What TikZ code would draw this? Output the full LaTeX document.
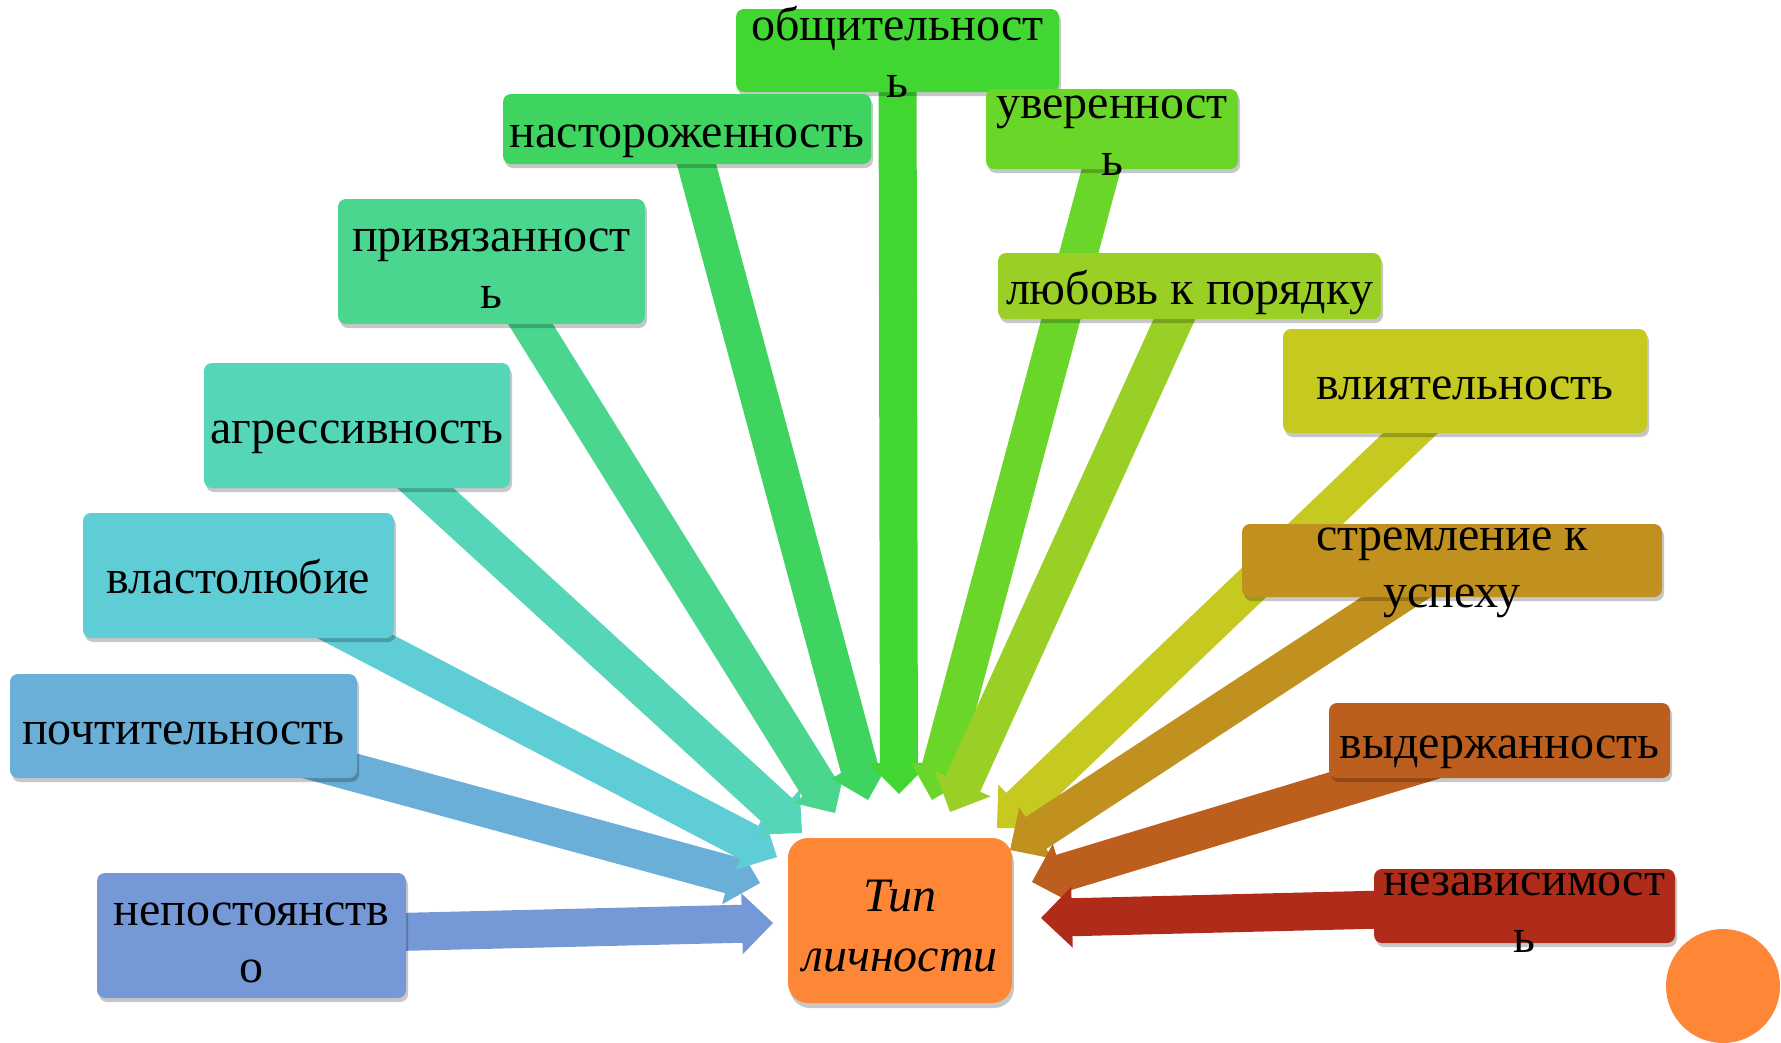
\documentclass[tikz,border=0pt]{standalone}
\usepackage{fontspec}
\setmainfont{Liberation Serif}
\usetikzlibrary{calc,shadows,backgrounds}

\definecolor{cObsh}{HTML}{42D633}
\definecolor{cNast}{HTML}{3FD45F}
\definecolor{cUver}{HTML}{6BD62A}
\definecolor{cPriv}{HTML}{4AD68E}
\definecolor{cLub}{HTML}{9ACF26}
\definecolor{cAgr}{HTML}{56D6B9}
\definecolor{cVli}{HTML}{C5C920}
\definecolor{cVlast}{HTML}{5FCDD6}
\definecolor{cStr}{HTML}{C1911F}
\definecolor{cPoch}{HTML}{6AAFD7}
\definecolor{cVyd}{HTML}{BB5E1E}
\definecolor{cNep}{HTML}{7598D6}
\definecolor{cNez}{HTML}{AF2B1A}
\definecolor{cOrange}{HTML}{FE8637}

\tikzset{
  box/.style={rounded corners=8pt, inner sep=0pt, draw=none,
    drop shadow={shadow xshift=2pt, shadow yshift=-4pt, opacity=0.22, fill=black}},
  lbl/.style={font=\fontsize{48}{57}\selectfont, align=center, inner sep=0pt, text=black},
  centerbox/.style={rounded corners=20pt, inner sep=0pt, draw=none, fill=cOrange,
    drop shadow={shadow xshift=2pt, shadow yshift=-5pt, opacity=0.22, fill=black}},
}

% box: name, colour, x1, y1, x2, y2, text
\newcommand\mkbox[7]{%
  \node[box, fill=#2, minimum width={(#5-#3)*1pt}, minimum height={(#6-#4)*1pt}]
    (#1) at ({(#3+#5)/2},{(#4+#6)/2}) {};
  \node[lbl] (#1-t) at ($(#1.center)+(0,7)$) {#7};
}
% block arrow: colour, tail, tip
\newcommand\barrow[3]{%
  \coordinate (ab) at ($(#3)!31pt!(#2)$);
  \fill[#1] ($(#2)!19pt!90:(#3)$) -- ($(ab)!19pt!90:(#3)$) -- ($(ab)!30.5pt!90:(#3)$)
    -- (#3) -- ($(ab)!30.5pt!-90:(#3)$) -- ($(ab)!19pt!-90:(#3)$) -- ($(#2)!19pt!-90:(#3)$) -- cycle;
}

\begin{document}
\begin{tikzpicture}[x=1pt,y=-1pt]
\useasboundingbox (0,0) rectangle (1781,1042);

% boxes
\mkbox{obsh}{cObsh}{736}{9}{1059}{92}{\strut общительност\\\strut ь}
\mkbox{nast}{cNast}{503}{94}{871}{164}{\strut настороженность}
\mkbox{uver}{cUver}{986}{89}{1238}{169}{\strut уверенност\\\strut ь}
\mkbox{priv}{cPriv}{338}{199}{645}{324}{\strut привязанност\\\strut ь}
\mkbox{lub}{cLub}{998}{253}{1381}{319}{\strut любовь к порядку}
\mkbox{agr}{cAgr}{204}{363}{510}{488}{\strut агрессивность}
\mkbox{vli}{cVli}{1283}{329}{1647}{433}{\strut влиятельность}
\mkbox{vlast}{cVlast}{83}{513}{394}{638}{\strut властолюбие}
\mkbox{str}{cStr}{1242}{524}{1662}{597}{\strut стремление к\\\strut успеху}
\mkbox{poch}{cPoch}{10}{674}{357}{778}{\strut почтительность}
\mkbox{vyd}{cVyd}{1329}{703}{1670}{778}{\strut выдержанность}
\mkbox{nep}{cNep}{97}{873}{406}{998}{\strut непостоянств\\\strut о}
\mkbox{nez}{cNez}{1374}{869}{1675}{943}{\strut независимост\\\strut ь}

\node[centerbox, minimum width=224pt, minimum height=165pt] (typ) at (900,920.5) {};
\node[lbl, font=\fontsize{48}{60}\selectfont\itshape] (typ-t) at (900,929.5) {\strut Тип\\\strut личности};

\fill[cOrange] (1723,986) circle (57pt);

% tips
\coordinate (tObsh) at (899,794);
\coordinate (tNast) at (868,800);
\coordinate (tUver) at (932,800);
\coordinate (tPriv) at (835,813);
\coordinate (tLub) at (950,812);
\coordinate (tAgr) at (802,833);
\coordinate (tVli) at (997,828);
\coordinate (tVlast) at (777,857);
\coordinate (tStr) at (1010,850);
\coordinate (tPoch) at (760,883);
\coordinate (tVyd) at (1032,882);
\coordinate (tNep) at (773,923);
\coordinate (tNez) at (1041,918);

\begin{pgfonlayer}{background}
\barrow{cNep}{nep.center}{tNep}
\barrow{cPoch}{poch.center}{tPoch}
\barrow{cVlast}{vlast.center}{tVlast}
\barrow{cAgr}{agr.center}{tAgr}
\barrow{cPriv}{priv.center}{tPriv}
\barrow{cNast}{nast.center}{tNast}
\barrow{cObsh}{obsh.center}{tObsh}
\barrow{cUver}{uver.center}{tUver}
\barrow{cLub}{lub.center}{tLub}
\barrow{cVli}{vli.center}{tVli}
\barrow{cStr}{str.center}{tStr}
\barrow{cVyd}{vyd.center}{tVyd}
\barrow{cNez}{nez.center}{tNez}
\end{pgfonlayer}
\end{tikzpicture}
\end{document}
